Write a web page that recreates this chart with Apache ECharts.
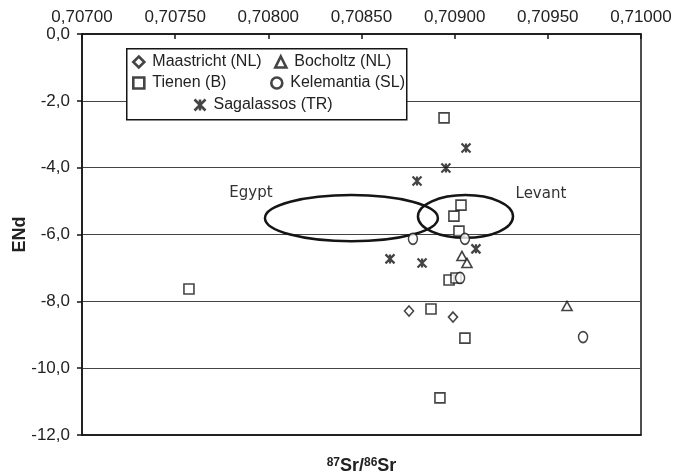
<!DOCTYPE html>
<html>
<head>
<meta charset="utf-8">
<script src="https://cdn.jsdelivr.net/npm/echarts@6/dist/echarts.min.js"></script>
<style>
  html, body { margin: 0; padding: 0; background: #fff; }
  #chart { width: 674px; height: 475px; }
</style>
</head>
<body>
<div id="chart"></div>
<script>
// 87Sr/86Sr (x) and ENd (y) per site
const maastrichtX = [0.708755, 0.708991]
const maastrichtY = [-8.29, -8.47]

const bocholtzX = [0.709039, 0.709066, 0.709603]
const bocholtzY = [-6.64, -6.85, -8.14]

const tienenX = [0.707574, 0.708943, 0.709034, 0.708996, 0.709023, 0.708970, 0.709007, 0.708873, 0.709055, 0.708921]
const tienenY = [-7.63, -2.51, -5.12, -5.45, -5.90, -7.36, -7.30, -8.23, -9.10, -10.89]

const kelemantiaX = [0.708776, 0.709055, 0.709029, 0.709689]
const kelemantiaY = [-6.13, -6.13, -7.30, -9.07]

const sagalassosX = [0.709061, 0.708953, 0.708798, 0.709114, 0.708653, 0.708825]
const sagalassosY = [-3.41, -4.01, -4.40, -6.43, -6.73, -6.85]

// reference fields drawn as ellipses (centre, half-axes, label spot)
const regionNames = ['Egypt', 'Levant']
const regionX = [0.708446, 0.709058]
const regionY = [-5.51, -5.46]
const regionRx = [0.000464, 0.000255]
const regionRy = [0.69, 0.64]
const regionLabelX = [0.707907, 0.709463]
const regionLabelY = [-4.76, -4.79]

const xTickMin = 0.707
const xTickMax = 0.710
const xTickStep = 0.0005
const yTickMin = -12
const yTickMax = 0
const yTickStep = 2

const ink = '#151515'
const zip = (xs, ys) => xs.map((x, i) => [x, ys[i]])

const markerStyle = { color: '#fff', borderColor: ink, borderWidth: 1.6 }
const starPath = 'path://M0,0L10,10M10,0L0,10M5,0L5,10'

const chart = echarts.init(document.getElementById('chart'))

function legendAt(name, left, top) {
  return {
    data: [{ name: name, itemStyle: { borderWidth: 2.6 } }],
    left: left,
    top: top,
    padding: 0,
    itemWidth: 11,
    itemHeight: 11,
    itemGap: 0,
    selectedMode: false,
    textStyle: { fontSize: 16, color: '#222', fontFamily: 'Liberation Sans', lineHeight: 16, padding: [0, 0, 0, 3] },
    z: 5
  }
}

const option = {
  animation: false,
  backgroundColor: '#fff',
  grid: {
    left: 82,
    right: 33,
    top: 34,
    bottom: 40,
    outerBoundsMode: 'none',
    show: true,
    borderColor: ink,
    borderWidth: 1.5
  },
  graphic: [{
    type: 'rect',
    left: 126,
    top: 48,
    shape: { width: 280, height: 71 },
    style: { fill: '#fff', stroke: ink, lineWidth: 1.5 },
    z: 3
  }],
  legend: [
    legendAt('Maastricht (NL)', 132, 54),
    legendAt('Bocholtz (NL)', 274, 54),
    legendAt('Tienen (B)', 132, 75),
    legendAt('Kelemantia (SL)', 270, 75),
    legendAt('Sagalassos (TR)', 192, 97)
  ],
  xAxis: [
    {
      type: 'value',
      position: 'top',
      min: xTickMin,
      max: xTickMax,
      interval: xTickStep,
      axisLine: { show: true, lineStyle: { color: ink, width: 1.5 } },
      axisTick: { show: true, inside: true, length: 5, lineStyle: { color: ink, width: 1.5 } },
      axisLabel: {
        fontSize: 17,
        color: '#222',
        fontFamily: 'Liberation Sans',
        margin: 8,
        formatter: v => v.toFixed(5).replace('.', ',')
      },
      splitLine: { show: false }
    },
    {
      type: 'value',
      position: 'bottom',
      min: xTickMin,
      max: xTickMax,
      axisLine: { show: true, lineStyle: { color: ink, width: 1.5 } },
      axisTick: { show: false },
      axisLabel: { show: false },
      splitLine: { show: false },
      name: '{sup|87}Sr/{sup|86}Sr',
      nameLocation: 'middle',
      nameGap: 22,
      nameMoveOverlap: false,
      nameTextStyle: {
        fontSize: 18,
        fontWeight: 'bold',
        color: '#222',
        fontFamily: 'Liberation Sans',
        rich: {
          sup: { fontSize: 12, fontWeight: 'bold', verticalAlign: 'top', color: '#222', fontFamily: 'Liberation Sans' }
        }
      }
    }
  ],
  yAxis: {
    type: 'value',
    min: yTickMin,
    max: yTickMax,
    interval: yTickStep,
    axisLine: { show: true, lineStyle: { color: ink, width: 1.5 } },
    axisTick: { show: true, length: 5, lineStyle: { color: ink, width: 1.5 } },
    axisLabel: {
      fontSize: 17,
      color: '#222',
      fontFamily: 'Liberation Sans',
      margin: 12,
      formatter: v => v.toFixed(1).replace('.', ',')
    },
    splitLine: { show: true, lineStyle: { color: '#444', width: 1.2 } },
    name: 'ENd',
    nameLocation: 'middle',
    nameRotate: 90,
    nameGap: 53,
    nameMoveOverlap: false,
    nameTextStyle: { fontSize: 18, fontWeight: 'bold', color: '#222', fontFamily: 'Liberation Sans' }
  },
  series: [
    {
      type: 'custom',
      name: 'regions',
      silent: true,
      z: 1,
      data: regionNames.map((n, i) => [regionX[i], regionY[i], regionRx[i], regionRy[i], regionLabelX[i], regionLabelY[i]]),
      renderItem: function (params, api) {
        const c = api.coord([api.value(0), api.value(1)])
        const s = api.size([api.value(2), api.value(3)])
        const t = api.coord([api.value(4), api.value(5)])
        return {
          type: 'group',
          children: [
            {
              type: 'ellipse',
              shape: { cx: c[0], cy: c[1], rx: s[0], ry: s[1] },
              style: { fill: 'none', stroke: ink, lineWidth: 2.5 }
            },
            {
              type: 'text',
              x: t[0],
              y: t[1],
              style: {
                text: regionNames[params.dataIndex],
                fill: '#333',
                font: '15px "DejaVu Sans"',
                align: 'center',
                verticalAlign: 'middle'
              }
            }
          ]
        }
      }
    },
    {
      type: 'scatter',
      name: 'Maastricht (NL)',
      symbol: 'diamond',
      symbolSize: [9, 10],
      itemStyle: markerStyle,
      data: zip(maastrichtX, maastrichtY),
      z: 3
    },
    {
      type: 'scatter',
      name: 'Bocholtz (NL)',
      symbol: 'triangle',
      symbolSize: [10, 9],
      itemStyle: markerStyle,
      data: zip(bocholtzX, bocholtzY),
      z: 3
    },
    {
      type: 'scatter',
      name: 'Tienen (B)',
      symbol: 'rect',
      symbolSize: 10,
      itemStyle: markerStyle,
      data: zip(tienenX, tienenY),
      z: 3
    },
    {
      type: 'scatter',
      name: 'Kelemantia (SL)',
      symbol: 'circle',
      symbolSize: [9, 11],
      itemStyle: markerStyle,
      data: zip(kelemantiaX, kelemantiaY),
      z: 3
    },
    {
      type: 'scatter',
      name: 'Sagalassos (TR)',
      symbol: starPath,
      symbolSize: 9,
      itemStyle: { color: 'none', borderColor: ink, borderWidth: 2.2 },
      data: zip(sagalassosX, sagalassosY),
      z: 3
    }
  ]
}

chart.setOption(option)
</script>
</body>
</html>
